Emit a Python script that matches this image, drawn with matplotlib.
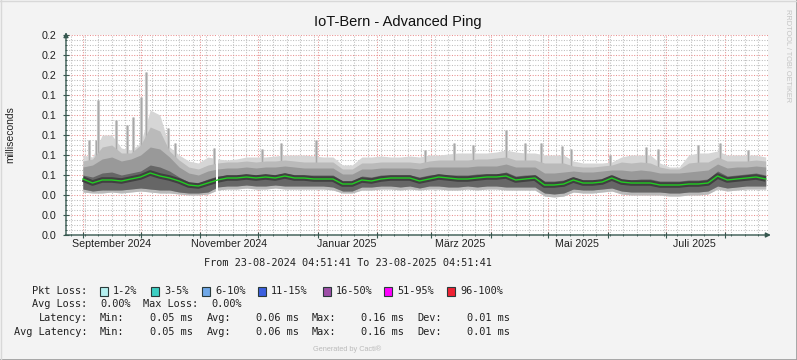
import numpy as np
import pandas as pd
import matplotlib
matplotlib.use('Agg')
import matplotlib.pyplot as plt
import matplotlib.dates as mdates
from matplotlib.lines import Line2D
from matplotlib.patches import Rectangle
from matplotlib.ticker import MultipleLocator, FormatStrFormatter

# Zeitachse: alle 5 Tage ab 1.9.2024
dates = pd.date_range('2024-09-01', periods=72, freq='5D')

# Median (gruen)
med = [0.056, 0.052, 0.055, 0.055, 0.054, 0.056, 0.058, 0.062, 0.059, 0.057, 0.054, 0.050,
       0.049, 0.052, 0.055, 0.057, 0.057, 0.058, 0.057, 0.058, 0.057, 0.059, 0.057, 0.057,
       0.056, 0.056, 0.056, 0.051, 0.051, 0.055, 0.054, 0.056, 0.057, 0.057, 0.057, 0.054,
       0.056, 0.058, 0.057, 0.056, 0.056, 0.057, 0.058, 0.058, 0.059, 0.055, 0.056, 0.057,
       0.050, 0.050, 0.051, 0.055, 0.052, 0.052, 0.053, 0.057, 0.053, 0.052, 0.052, 0.052,
       0.050, 0.050, 0.050, 0.051, 0.051, 0.052, 0.059, 0.055, 0.056, 0.057, 0.058, 0.056]

# Smoke: untere Raender
lo = [0.043, 0.042, 0.042, 0.043, 0.042, 0.043, 0.044, 0.043, 0.042, 0.042, 0.041, 0.040,
      0.040, 0.041, 0.045, 0.046, 0.046, 0.047, 0.046, 0.046, 0.047, 0.046, 0.046, 0.046,
      0.046, 0.046, 0.045, 0.042, 0.042, 0.045, 0.045, 0.046, 0.046, 0.045, 0.046, 0.045,
      0.046, 0.046, 0.045, 0.045, 0.046, 0.045, 0.046, 0.046, 0.045, 0.045, 0.045, 0.045,
      0.039, 0.038, 0.039, 0.043, 0.042, 0.042, 0.043, 0.044, 0.041, 0.040, 0.040, 0.040,
      0.040, 0.039, 0.039, 0.040, 0.040, 0.041, 0.046, 0.044, 0.045, 0.046, 0.046, 0.046]
lo_in = [0.046, 0.044, 0.045, 0.045, 0.045, 0.046, 0.047, 0.046, 0.045, 0.045, 0.043, 0.042,
         0.042, 0.043, 0.048, 0.049, 0.049, 0.050, 0.049, 0.049, 0.050, 0.049, 0.049, 0.049,
         0.049, 0.049, 0.048, 0.044, 0.044, 0.048, 0.048, 0.049, 0.049, 0.048, 0.049, 0.047,
         0.049, 0.049, 0.048, 0.048, 0.049, 0.048, 0.049, 0.049, 0.048, 0.048, 0.048, 0.048,
         0.042, 0.041, 0.042, 0.046, 0.045, 0.045, 0.046, 0.047, 0.044, 0.043, 0.043, 0.043,
         0.043, 0.042, 0.042, 0.043, 0.043, 0.044, 0.049, 0.047, 0.048, 0.049, 0.049, 0.049]

# Smoke: obere Raender (innen -> aussen)
hi_in = [0.060, 0.058, 0.062, 0.063, 0.060, 0.062, 0.064, 0.070, 0.068, 0.064, 0.058, 0.053,
         0.052, 0.056, 0.059, 0.060, 0.060, 0.061, 0.060, 0.061, 0.060, 0.062, 0.060, 0.060,
         0.060, 0.060, 0.060, 0.054, 0.054, 0.059, 0.058, 0.060, 0.060, 0.060, 0.060, 0.058,
         0.060, 0.061, 0.060, 0.060, 0.060, 0.061, 0.061, 0.061, 0.063, 0.059, 0.060, 0.060,
         0.054, 0.054, 0.055, 0.058, 0.055, 0.055, 0.056, 0.059, 0.056, 0.055, 0.056, 0.056,
         0.054, 0.054, 0.054, 0.055, 0.055, 0.056, 0.064, 0.059, 0.060, 0.061, 0.062, 0.060]
hi_mid = [0.068, 0.070, 0.076, 0.078, 0.074, 0.076, 0.080, 0.088, 0.086, 0.078, 0.068, 0.062,
          0.060, 0.064, 0.066, 0.067, 0.067, 0.068, 0.067, 0.068, 0.068, 0.069, 0.068, 0.067,
          0.067, 0.067, 0.067, 0.061, 0.061, 0.066, 0.066, 0.067, 0.067, 0.067, 0.067, 0.066,
          0.068, 0.068, 0.068, 0.068, 0.068, 0.069, 0.069, 0.069, 0.071, 0.068, 0.068, 0.068,
          0.062, 0.062, 0.063, 0.064, 0.063, 0.063, 0.064, 0.065, 0.065, 0.064, 0.065, 0.064,
          0.062, 0.062, 0.062, 0.063, 0.064, 0.065, 0.071, 0.067, 0.068, 0.068, 0.069, 0.068]
hi_out = [0.074, 0.076, 0.088, 0.090, 0.082, 0.082, 0.090, 0.108, 0.104, 0.084, 0.075, 0.068,
          0.066, 0.070, 0.072, 0.073, 0.073, 0.074, 0.073, 0.074, 0.074, 0.075, 0.074, 0.073,
          0.073, 0.073, 0.073, 0.066, 0.066, 0.072, 0.072, 0.073, 0.073, 0.073, 0.073, 0.072,
          0.074, 0.075, 0.075, 0.075, 0.075, 0.076, 0.076, 0.077, 0.078, 0.075, 0.075, 0.075,
          0.072, 0.072, 0.072, 0.069, 0.068, 0.068, 0.069, 0.070, 0.073, 0.072, 0.073, 0.072,
          0.068, 0.066, 0.066, 0.072, 0.073, 0.073, 0.078, 0.074, 0.074, 0.074, 0.075, 0.074]
top = [0.080, 0.078, 0.100, 0.100, 0.087, 0.085, 0.092, 0.125, 0.120, 0.088, 0.080, 0.074,
       0.072, 0.078, 0.076, 0.075, 0.076, 0.078, 0.078, 0.078, 0.079, 0.080, 0.080, 0.080,
       0.079, 0.078, 0.078, 0.070, 0.070, 0.078, 0.078, 0.079, 0.078, 0.078, 0.079, 0.078,
       0.080, 0.080, 0.081, 0.082, 0.082, 0.082, 0.082, 0.083, 0.085, 0.083, 0.082, 0.082,
       0.080, 0.080, 0.080, 0.074, 0.072, 0.072, 0.072, 0.073, 0.078, 0.080, 0.080, 0.080,
       0.072, 0.068, 0.068, 0.080, 0.082, 0.082, 0.084, 0.080, 0.080, 0.080, 0.080, 0.078]

# einzelne Ausreisser (Spitzen)
spike_dates = ['2024-09-04', '2024-09-08', '2024-09-09', '2024-09-18', '2024-09-24',
               '2024-09-27', '2024-10-01', '2024-10-04', '2024-10-15', '2024-10-19',
               '2024-11-08', '2024-12-03', '2024-12-13', '2024-12-31', '2025-02-26',
               '2025-03-13', '2025-03-23', '2025-04-09', '2025-04-19', '2025-04-27',
               '2025-05-08', '2025-05-13', '2025-06-02', '2025-06-21', '2025-06-27',
               '2025-07-18', '2025-07-29', '2025-08-13']
spike_vals = [0.095, 0.095, 0.135, 0.115, 0.110, 0.118, 0.138, 0.163, 0.107, 0.092,
              0.087, 0.086, 0.092, 0.095, 0.085, 0.092, 0.090, 0.105, 0.092, 0.092,
              0.089, 0.086, 0.080, 0.088, 0.086, 0.090, 0.092, 0.085]

gap = ('2024-11-09 00:00', '2024-11-10 08:00')

t0 = pd.Timestamp('2024-08-23 04:51:41')
t1 = pd.Timestamp('2025-08-23 04:51:41')

month_labels = ['September 2024', 'November 2024', 'Januar 2025', 'März 2025', 'Mai 2025', 'Juli 2025']
month_label_dates = ['2024-09-16', '2024-11-16', '2025-01-16', '2025-03-16', '2025-05-16', '2025-07-16']

loss_labels = ['1-2%', '3-5%', '6-10%', '11-15%', '16-50%', '51-95%', '96-100%']
loss_colors = ['#b4f0f0', '#3ccfc3', '#6fa8e8', '#3b5fdf', '#9e4fa8', '#ff00ff', '#ee2233']

W, H = 797, 360
fig = plt.figure(figsize=(W / 100, H / 100), dpi=100, facecolor='#f3f3f3')
ax = fig.add_axes([66 / W, 1 - 235 / H, 702 / W, 200 / H])
ax.set_facecolor('white')

axis_col = '#36574f'
sans = 'Liberation Sans'
mono = 'DejaVu Sans Mono'

# Smoke-Schichten
ax.fill_between(dates, lo, top, color='#d6d6d6', lw=0, zorder=2)
ax.vlines(pd.to_datetime(spike_dates), 0.06, spike_vals, color='#c8c8c8', lw=2.2, zorder=2)
ax.vlines(pd.to_datetime(spike_dates), 0.06, spike_vals, color='#a8a8a8', lw=0.7, zorder=2)
ax.fill_between(dates, lo, hi_out, color='#bababa', lw=0, zorder=3)
ax.fill_between(dates, lo_in, hi_mid, color='#999999', lw=0, zorder=4)
ax.fill_between(dates, lo_in, hi_in, color='#666666', lw=0, zorder=5)
ax.plot(dates, med, color='#404040', lw=4, zorder=6, solid_capstyle='butt')
ax.axvspan(pd.Timestamp(gap[0]), pd.Timestamp(gap[1]), color='white', lw=0, zorder=7)
ax.plot(dates, med, color='#22cc22', lw=1.0, zorder=8)

ax.set_xlim(t0, t1)
ax.set_ylim(0, 0.2)

# Gitter
ax.xaxis.set_major_locator(mdates.MonthLocator())
ax.xaxis.set_minor_locator(mdates.WeekdayLocator(byweekday=mdates.MO))
ax.yaxis.set_major_locator(MultipleLocator(0.02))
ax.yaxis.set_minor_locator(MultipleLocator(0.005))
ax.yaxis.set_major_formatter(FormatStrFormatter('%.1f'))
ax.set_axisbelow(True)
ax.grid(which='minor', color='#bdbdbd', ls=(0, (1, 1.5)), lw=0.75, zorder=0)
ax.grid(which='major', color='#e89090', ls=(0, (1, 1.5)), lw=0.75, zorder=1)
ax.set_xticklabels([])
ax.tick_params(axis='x', which='major', direction='inout', length=4, color=axis_col, width=0.8)
ax.tick_params(axis='x', which='minor', direction='inout', length=2, color=axis_col, width=0.6)
ax.tick_params(axis='y', which='major', direction='inout', length=4, color=axis_col, width=0.8,
               labelsize=7.7, pad=5, labelcolor='#222222')
ax.tick_params(axis='y', which='minor', direction='inout', length=2, color=axis_col, width=0.6)
for lab in ax.get_yticklabels():
    lab.set_fontfamily(sans)
for s in ax.spines.values():
    s.set_visible(False)

# Achsen mit Pfeilen
ax.annotate('', xy=(1.008, 0), xytext=(-0.005, 0), xycoords='axes fraction',
            arrowprops=dict(arrowstyle='-|>', color=axis_col, lw=1, mutation_scale=7), zorder=10)
ax.annotate('', xy=(0, 1.028), xytext=(0, -0.015), xycoords='axes fraction',
            arrowprops=dict(arrowstyle='-|>', color=axis_col, lw=1, mutation_scale=7), zorder=10)

for d, lab in zip(month_label_dates, month_labels):
    ax.text(pd.Timestamp(d), -0.045, lab, transform=ax.get_xaxis_transform(),
            ha='center', va='center', fontsize=7.7, family=sans, color='#222222')

def px(x, y):
    return x / W, 1 - y / H

fig.text(*px(398, 22), 'IoT-Bern - Advanced Ping', ha='center', va='center',
         fontsize=10.5, family=sans, color='#111111')
fig.text(*px(10, 135), 'milliseconds', ha='center', va='center', rotation=90,
         fontsize=7.5, family=sans, color='#222222')
fig.text(*px(788, 56), 'RRDTOOL / TOBI OETIKER', ha='center', va='center', rotation=270,
         fontsize=5.3, family=sans, color='#c4c4c4')

# Legende
fs = 7.4
def mtext(x, y, s):
    fig.text(*px(x, y), s, ha='left', va='center', fontsize=fs, family=mono, color='#222222')

mtext(204, 263, 'From 23-08-2024 04:51:41 To 23-08-2025 04:51:41')

mtext(32, 291, 'Pkt Loss:')
box_x = [100, 151, 202, 258, 323, 384, 447]
for bx, lab, c in zip(box_x, loss_labels, loss_colors):
    fig.add_artist(Rectangle(px(bx, 295.5), 7.5 / W, 8.5 / H, transform=fig.transFigure,
                             facecolor=c, edgecolor='#2a3a3a', lw=0.8))
    mtext(bx + 13, 291, lab)

mtext(32, 304, 'Avg Loss:')
mtext(100, 304, '0.00%')
mtext(143, 304, 'Max Loss:')
mtext(211, 304, '0.00%')

for y, head in [(318, 'Latency:'), (332, 'Avg Latency:')]:
    mtext(14 + (12 - len(head)) * 6.1, y, head)
    mtext(100, y, 'Min:')
    mtext(150, y, '0.05 ms')
    mtext(207, y, 'Avg:')
    mtext(256, y, '0.06 ms')
    mtext(312, y, 'Max:')
    mtext(361, y, '0.16 ms')
    mtext(417, y, 'Dev:')
    mtext(467, y, '0.01 ms')

fig.text(*px(347, 349), 'Generated by Cacti®', ha='center', va='center', fontsize=5.3,
         family=sans, color='#bbbbbb')

# Rahmen
fig.add_artist(Line2D([0, 1], [0.5 / H, 0.5 / H], color='#9a9a9a', lw=1.2, transform=fig.transFigure))
fig.add_artist(Line2D([1 - 0.5 / W, 1 - 0.5 / W], [0, 1], color='#9a9a9a', lw=1.2, transform=fig.transFigure))
fig.add_artist(Line2D([0.5 / W, 0.5 / W], [0, 1], color='#d8d8d8', lw=1.0, transform=fig.transFigure))
fig.add_artist(Line2D([0, 1], [1 - 0.5 / H, 1 - 0.5 / H], color='#d8d8d8', lw=1.0, transform=fig.transFigure))

fig.savefig('out.png', dpi=100, facecolor=fig.get_facecolor())
